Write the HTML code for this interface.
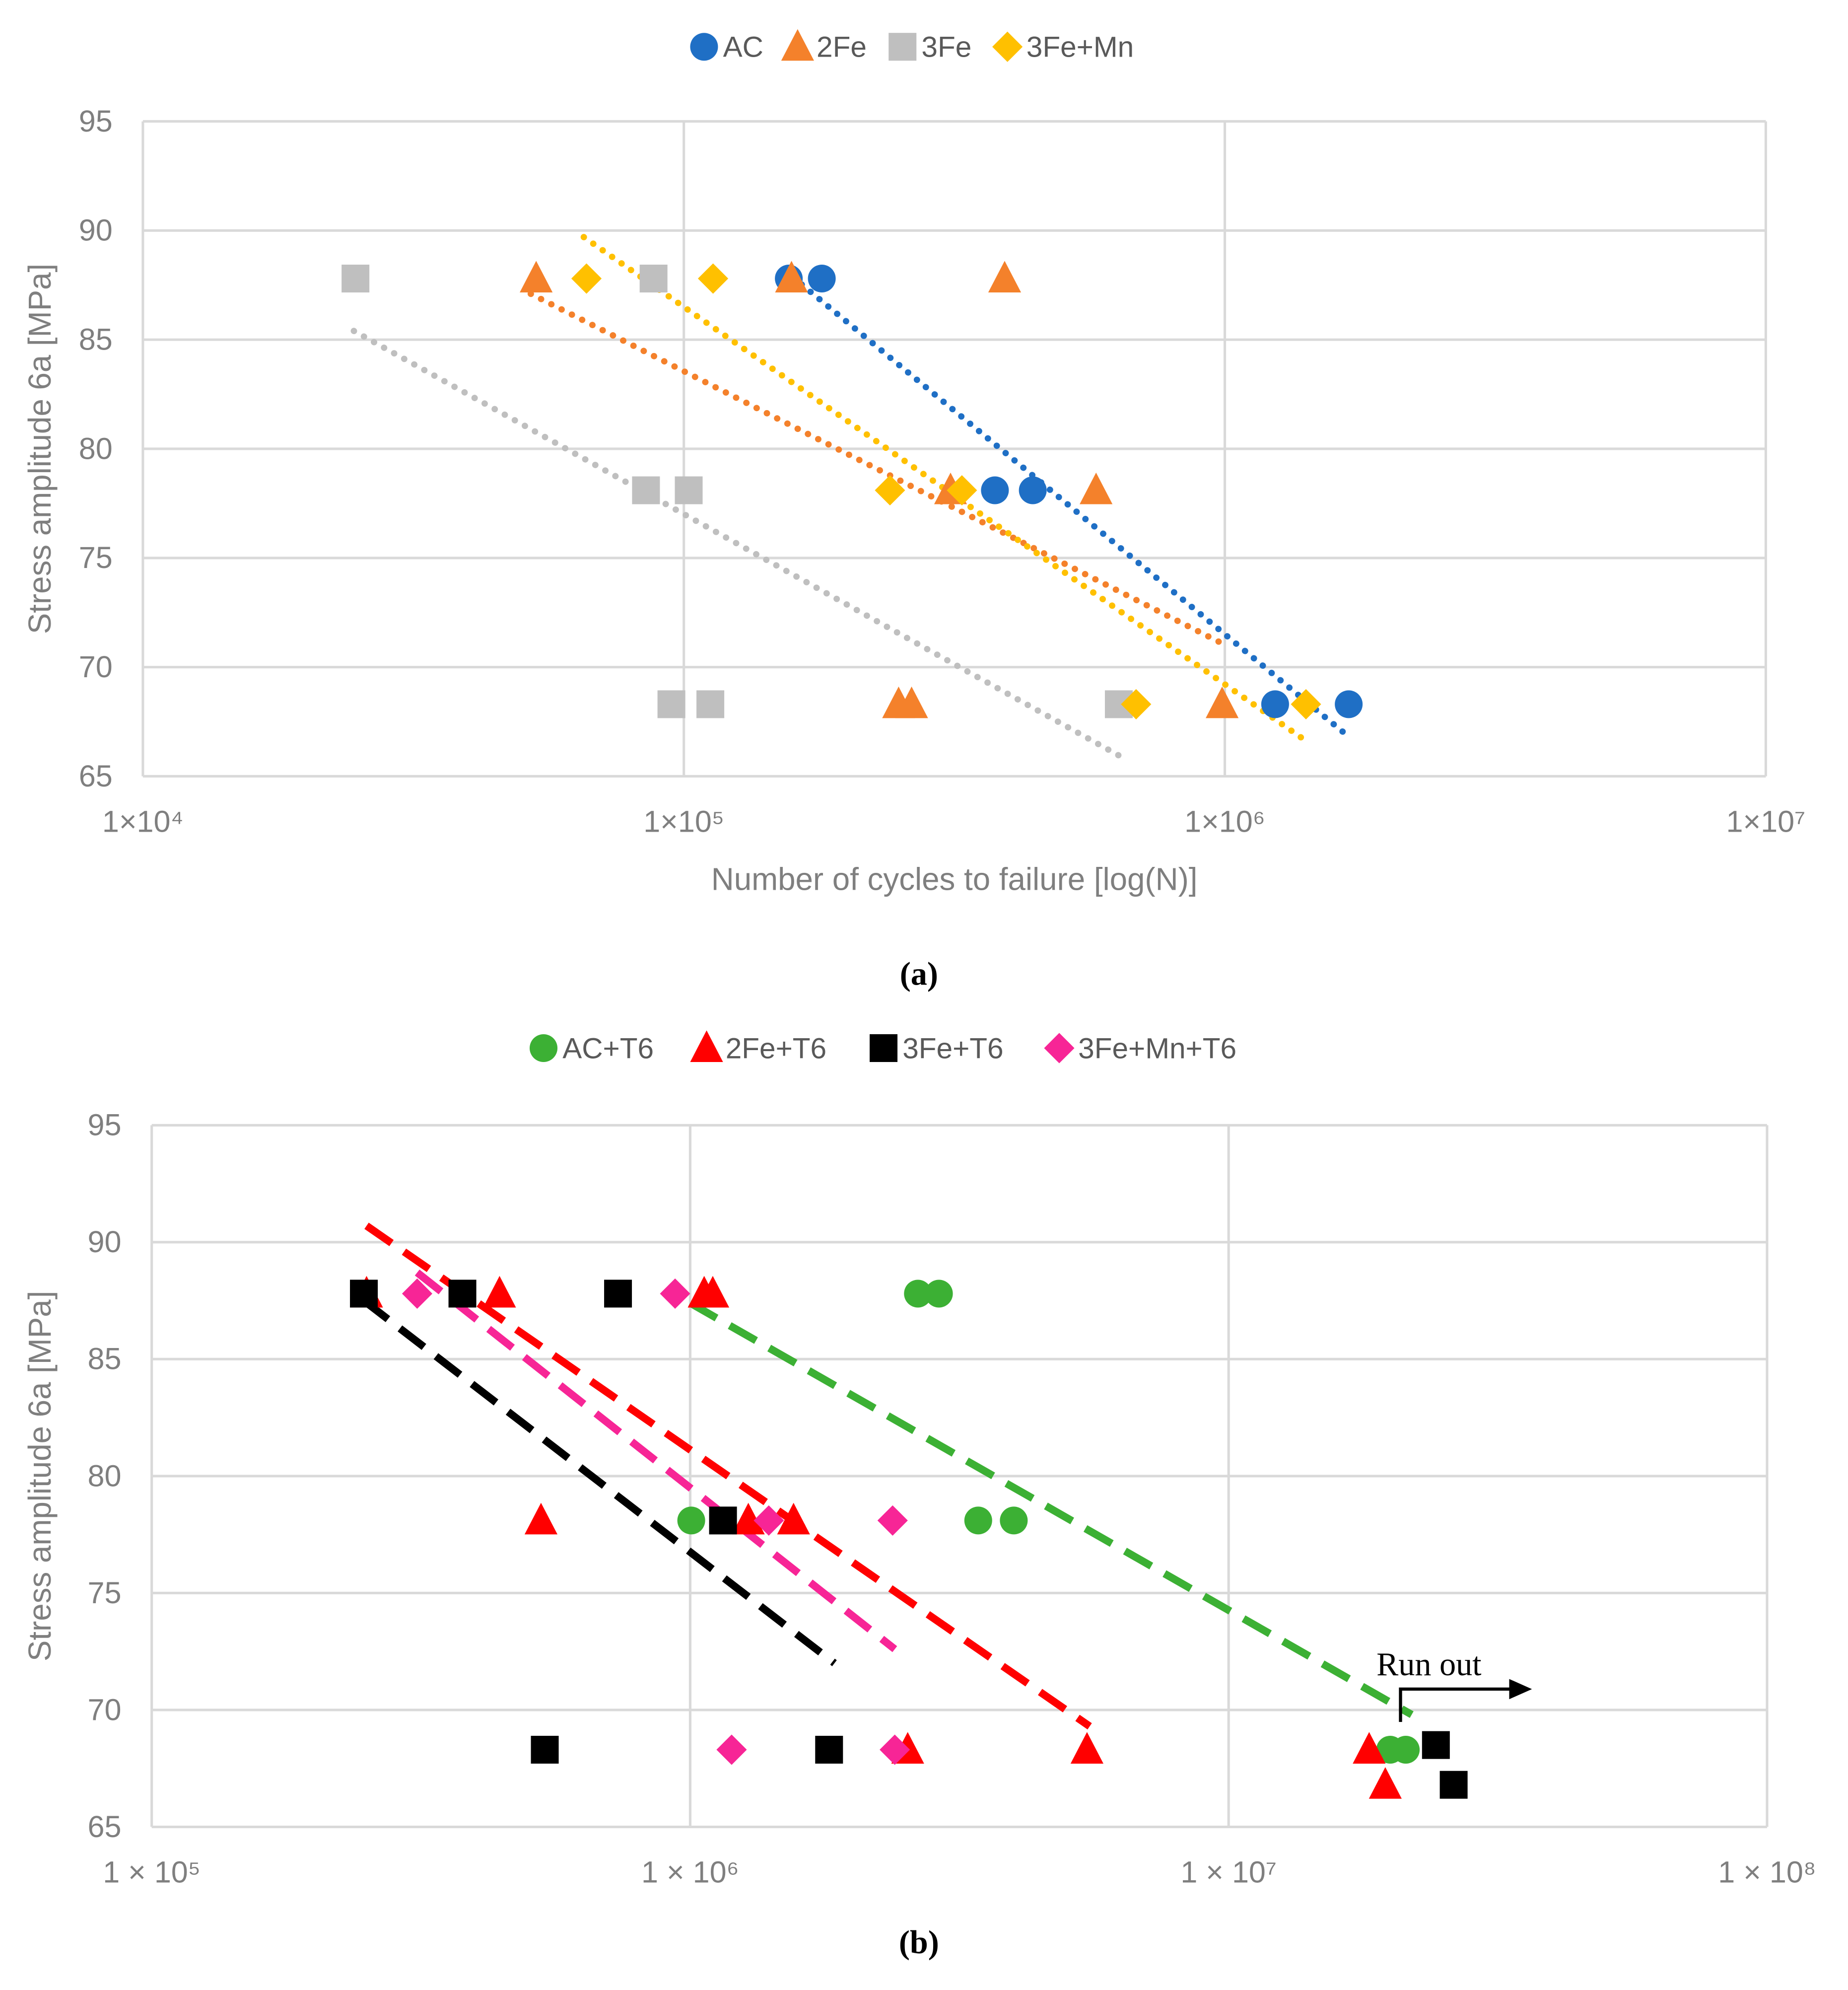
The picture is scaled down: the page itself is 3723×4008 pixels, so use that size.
<!DOCTYPE html>
<html><head><meta charset="utf-8"><style>
html,body{margin:0;padding:0;background:#fff}
svg{display:block}
text{font-family:"Liberation Sans",sans-serif}
</style></head><body>
<svg id="root" width="3723" height="4008" viewBox="0 0 1462 1574" xmlns="http://www.w3.org/2000/svg">
<g id="ca"></g>
<g id="cb"></g>
<text x="727" y="779" text-anchor="middle" font-size="26" font-weight="bold" style="font-family:'Liberation Serif',serif">(a)</text>
<text x="727" y="1545" text-anchor="middle" font-size="26" font-weight="bold" style="font-family:'Liberation Serif',serif">(b)</text>
</svg>
<script>
// ---- Chart (a) data ----
const aSeries = ["AC","2Fe","3Fe","3Fe+Mn"];
const aLogN_AC = [5.194,5.255,5.575,5.645,6.093,6.229];
const aS_AC = [87.8,87.8,78.1,78.1,68.3,68.3];
const aLogN_2Fe = [4.727,5.199,5.593,5.493,5.762,5.397,5.421,5.995];
const aS_2Fe = [87.8,87.8,87.8,78.1,78.1,68.3,68.3,68.3];
const aLogN_3Fe = [4.393,4.944,4.930,5.009,4.977,5.049,5.804];
const aS_3Fe = [87.8,87.8,78.1,78.1,68.3,68.3,68.3];
const aLogN_3FeMn = [4.820,5.054,5.381,5.514,5.836,6.150];
const aS_3FeMn = [87.8,87.8,78.1,78.1,68.3,68.3];
const aTrendLogN = [[5.185,6.220],[4.717,6.002],[4.390,5.808],[4.815,6.157]];
const aTrendS = [[88.2,67.0],[87.1,71.0],[85.4,65.9],[89.7,66.5]];
const aYTicks = [65,70,75,80,85,90,95];
const aXTicks = ["1×10⁴","1×10⁵","1×10⁶","1×10⁷"];
// ---- Chart (b) data ----
const bSeries = ["AC+T6","2Fe+T6","3Fe+T6","3Fe+Mn+T6"];
const bLogN_AC = [6.423,6.462,6.002,6.535,6.601,7.300,7.329];
const bS_AC = [87.8,87.8,78.1,78.1,78.1,68.3,68.3];
const bLogN_2Fe = [5.399,5.646,6.026,6.042,5.723,6.108,6.192,6.404,6.737,7.261,7.291];
const bS_2Fe = [87.8,87.8,87.8,87.8,78.1,78.1,78.1,68.3,68.3,68.3,66.8];
const bLogN_3Fe = [5.394,5.577,5.866,6.061,5.730,6.258,7.385,7.418];
const bS_3Fe = [87.8,87.8,87.8,78.1,68.3,68.3,68.5,66.8];
const bLogN_3FeMn = [5.493,5.972,6.146,6.376,6.077,6.380];
const bS_3FeMn = [87.8,87.8,78.1,78.1,68.3,68.3];
const bTrendLogN = [[6.0,7.340],[5.399,6.742],[5.394,6.268],[5.493,6.380]];
const bTrendS = [[87.4,69.8],[90.7,69.3],[87.5,72.0],[88.7,72.6]];
const bYTicks = [65,70,75,80,85,90,95];
const bXTicks = ["1 × 10⁵","1 × 10⁶","1 × 10⁷","1 × 10⁸"];

const NS="http://www.w3.org/2000/svg";
function mk(parent,tag,attrs,txt){const e=document.createElementNS(NS,tag);for(const k in attrs)e.setAttribute(k,attrs[k]);if(txt!==undefined)e.textContent=txt;parent.appendChild(e);return e;}
function marker(g,shape,cx,cy,color){
  let e;
  if(shape==="circle") e=mk(g,"circle",{cx:cx,cy:cy,r:11,fill:color});
  else if(shape==="square") e=mk(g,"rect",{x:cx-11,y:cy-11,width:22,height:22,fill:color});
  else if(shape==="triangle") e=mk(g,"polygon",{points:`${cx},${cy-14} ${cx+13},${cy+11} ${cx-13},${cy+11}`,fill:color});
  else e=mk(g,"polygon",{points:`${cx},${cy-12} ${cx+12},${cy} ${cx},${cy+12} ${cx-12},${cy}`,fill:color});
  return e;
}
function chart(g,cfg){
  const X=l=>cfg.x0+(l-cfg.d0)*(cfg.x1-cfg.x0)/3;
  const Y=s=>cfg.y0+(95-s)*(cfg.y1-cfg.y0)/30;
  cfg.yTicks.forEach(t=>{
    const l=mk(g,"line",{x1:cfg.x0,x2:cfg.x1,y1:Y(t),y2:Y(t),stroke:"#d9d9d9","stroke-width":2});
    
    
    const tx=mk(g,"text",{x:cfg.x0-24,y:Y(t)+8,"text-anchor":"end","font-size":24,fill:"#7f7f7f"},t);
    
    
  });
  cfg.xTicks.forEach((t,i)=>{
    const x=X(cfg.d0+i);
    const l=mk(g,"line",{x1:x,x2:x,y1:cfg.y0,y2:cfg.y1,stroke:"#d9d9d9","stroke-width":2});
    
    
    const tx=mk(g,"text",{x:x,y:cfg.y1+44,"text-anchor":"middle","font-size":24,fill:"#7f7f7f"},t);
    
    
  });
  const yt=mk(g,"text",{x:0,y:0,"text-anchor":"middle","font-size":25,fill:"#7f7f7f",transform:`translate(40,${(cfg.y0+cfg.y1)/2}) rotate(-90)`},"Stress amplitude 6a [MPa]");
  
  
  if(cfg.xTitle){
    const xt=mk(g,"text",{x:755,y:cfg.y1+90,"text-anchor":"middle","font-size":25,fill:"#7f7f7f"},cfg.xTitle);
    
    
  }
  cfg.tLog.forEach((tl,i)=>{
    const l=mk(g,"line",{x1:X(tl[0]),x2:X(tl[1]),y1:Y(cfg.tS[i][0]),y2:Y(cfg.tS[i][1]),stroke:cfg.colors[i],"stroke-width":cfg.dash?6:5,"stroke-dasharray":cfg.dash?"24 12":"0.1 9","stroke-linecap":cfg.dash?"butt":"round"});
    
    
  });
  cfg.data.forEach((d,i)=>{
    d[0].forEach((ln,j)=>{
      const m=marker(g,cfg.shapes[i],X(ln),Y(d[1][j]),cfg.colors[i]);
      
      
    });
  });
  cfg.series.forEach((s,i)=>{
    const lx=cfg.legX[i];
    const m=marker(g,cfg.shapes[i],lx,cfg.legY,cfg.colors[i]);
    
    
    const t=mk(g,"text",{x:lx+15,y:cfg.legY+8,"font-size":23,fill:"#595959"},s);
    
    
  });
}
const shapes=["circle","triangle","square","diamond"];
chart(document.getElementById("ca"),{x0:113,x1:1397,y0:96,y1:614,d0:4,yTicks:aYTicks,xTicks:aXTicks,
  xTitle:"Number of cycles to failure [log(N)]",series:aSeries,shapes:shapes,
  colors:["#1f6fc5","#f4812b","#bfbfbf","#ffc000"],dash:false,tLog:aTrendLogN,tS:aTrendS,
  data:[[aLogN_AC,aS_AC],[aLogN_2Fe,aS_2Fe],[aLogN_3Fe,aS_3Fe],[aLogN_3FeMn,aS_3FeMn]],
  legX:[557,631,714,797],legY:37});
chart(document.getElementById("cb"),{x0:120,x1:1398,y0:890,y1:1445,d0:5,yTicks:bYTicks,xTicks:bXTicks,
  xTitle:null,series:bSeries,shapes:shapes,
  colors:["#3cb034","#ff0000","#000000","#f72596"],dash:true,tLog:bTrendLogN,tS:bTrendS,
  data:[[bLogN_AC,bS_AC],[bLogN_2Fe,bS_2Fe],[bLogN_3Fe,bS_3Fe],[bLogN_3FeMn,bS_3FeMn]],
  legX:[430,559,699,838],legY:829});
const cb=document.getElementById("cb");
const ro=mk(cb,"text",{x:1089,y:1325,"font-size":26,style:"font-family:'Liberation Serif',serif"},"Run out");


const ar=mk(cb,"polyline",{points:"1108,1362 1108,1336 1196,1336",fill:"none",stroke:"#000","stroke-width":2.5});


const ah=mk(cb,"polygon",{points:"1212,1336 1194,1328 1194,1344",fill:"#000"});


</script>
</body></html>
